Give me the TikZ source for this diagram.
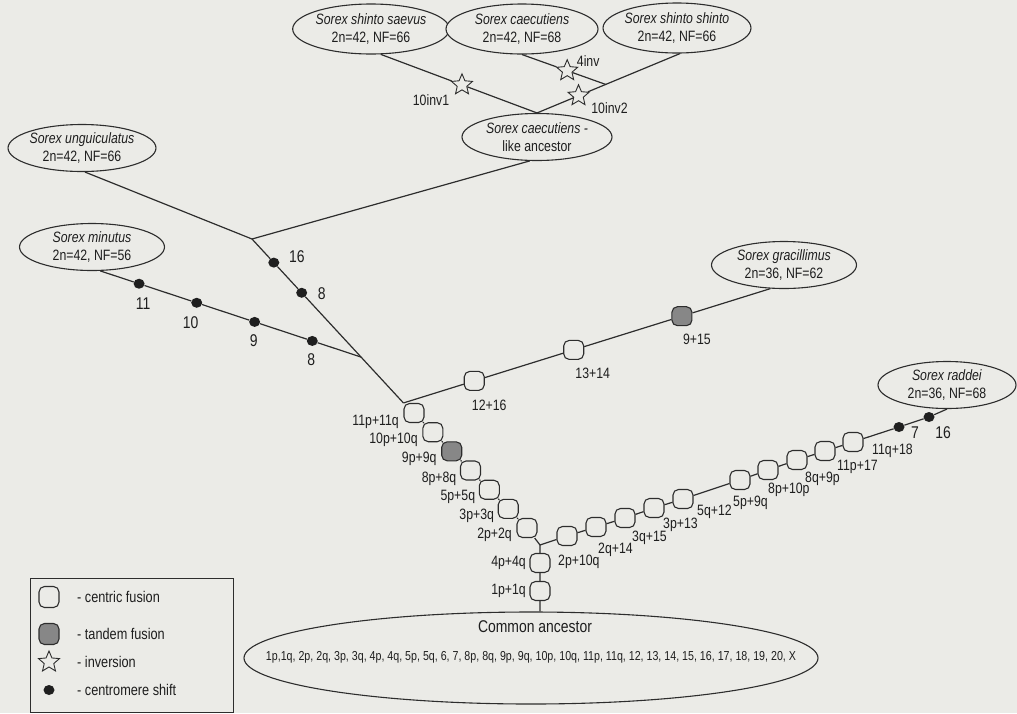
\documentclass[tikz,border=0pt]{standalone}
\usepackage{fontspec}
\setmainfont{Liberation Sans}[FakeStretch=0.82]
\usetikzlibrary{shapes.geometric,calc}
\definecolor{bg}{RGB}{235,235,231}
\definecolor{ink}{RGB}{45,45,45}
\definecolor{txt}{RGB}{30,30,30}
\definecolor{tand}{RGB}{135,135,135}
\begin{document}
\begin{tikzpicture}[x=1pt,y=-1pt,
  conn/.style={draw=ink, line width=1.2pt},
  sp/.style={ellipse, draw=ink, line width=1.1pt, fill=bg, inner sep=0pt, minimum width=145pt, minimum height=47pt, align=center, font=\fontsize{15}{18}\selectfont, text=txt},
  cf/.style={rectangle, rounded corners=5.5pt, draw=ink, line width=1.1pt, fill=bg, minimum width=20pt, minimum height=19pt, inner sep=0pt},
  tf/.style={cf, fill=tand},
  cs/.style={ellipse, fill=black!88, minimum width=11pt, minimum height=10pt, inner sep=0pt},
  inv/.style={star, star points=5, star point ratio=2.2, draw=ink, line width=0.9pt, fill=bg, minimum size=22pt, inner sep=0pt},
  lbl/.style={font=\fontsize{15}{17}\selectfont, text=txt, inner sep=0pt},
  num/.style={font=\fontsize{17}{19}\selectfont, text=txt, inner sep=0pt},
  leg/.style={font=\fontsize{15.5}{17}\selectfont, text=txt, inner sep=0pt, anchor=west},
]
\fill[bg] (0,0) rectangle (1017,713);
\useasboundingbox (0,0) rectangle (1017,713);

% species
\node[sp, minimum height=50pt] (saevus) at (371,29) {\textit{Sorex shinto saevus}\\2n=42, NF=66};
\node[sp, minimum height=50pt, minimum width=152pt] (caec) at (522,29) {\textit{Sorex caecutiens}\\2n=42, NF=68};
\node[sp, minimum height=50pt] (shinto) at (677,28) {\textit{Sorex shinto shinto}\\2n=42, NF=66};
\node[sp, minimum width=150pt] (anc) at (537,137) {\textit{Sorex caecutiens -}\\like ancestor};
\node[sp] (ungu) at (82,148) {\textit{Sorex unguiculatus}\\2n=42, NF=66};
\node[sp] (minu) at (92,247) {\textit{Sorex minutus}\\2n=42, NF=56};
\node[sp] (grac) at (784,265) {\textit{Sorex gracillimus}\\2n=36, NF=62};
\node[sp, minimum width=138pt] (radd) at (947,385) {\textit{Sorex raddei}\\2n=36, NF=68};

% common ancestor
\node[ellipse, draw=ink, line width=1.1pt, minimum width=574pt, minimum height=92pt, inner sep=0pt] (common) at (531,658) {};
\node[font=\fontsize{17}{19}\selectfont, text=txt] (ctitle) at (535,627) {Common ancestor};
\node[font=\fontsize{13}{16}\selectfont, text=txt] (clist) at (531,657) {1p,1q, 2p, 2q, 3p, 3q, 4p, 4q, 5p, 5q, 6, 7, 8p, 8q, 9p, 9q, 10p, 10q, 11p, 11q, 12, 13, 14, 15, 16, 17, 18, 19, 20, X};

% top inversions
\coordinate (ja) at (anc.north);
\coordinate (jb) at ($(ja)!0.48!(shinto.-83)$);
\node[inv] (s1) at ($(saevus.-69)!0.52!(ja)$) {};
\node[inv] (s3) at ($(ja)!0.29!(shinto.-83)$) {};
\node[inv] (s2) at ($(caec.south)!0.54!(jb)$) {};
\draw[conn] (saevus.-69) -- (s1) -- (ja) -- (s3) -- (jb) -- (shinto.-83);
\draw[conn] (caec.south) -- (s2) -- (jb);
\node[lbl] (t1) at ([shift={(-31,15)}]s1) {10inv1};
\node[lbl] (t2) at ([shift={(21,-10)}]s2) {4inv};
\node[lbl] (t3) at ([shift={(31,12)}]s3) {10inv2};

% central chain
\node[cf] (c1) at (414,413) {};
\node[cf] (c2) at (432.8,432.2) {};
\node[tf] (c3) at (451.7,451.3) {};
\node[cf] (c4) at (470.5,470.5) {};
\node[cf] (c5) at (489.3,489.7) {};
\node[cf] (c6) at (508.2,508.8) {};
\node[cf] (c7) at (527,528) {};
\coordinate (j4) at (540,545);
\node[cf] (c8) at (540,563) {};
\node[cf] (c9) at (540,591) {};
\draw[conn] (c1) -- (c2) -- (c3) -- (c4) -- (c5) -- (c6) -- (c7) -- (j4) -- (c8) -- (c9) -- (c9 |- common.north);
\node[lbl, anchor=east] at ([shift={(-15,9)}]c1) {11p+11q};
\node[lbl, anchor=east] at ([shift={(-15,8)}]c2) {10p+10q};
\node[lbl, anchor=east] at ([shift={(-15,8)}]c3) {9p+9q};
\node[lbl, anchor=east] at ([shift={(-14,8)}]c4) {8p+8q};
\node[lbl, anchor=east] at ([shift={(-14,7)}]c5) {5p+5q};
\node[lbl, anchor=east] at ([shift={(-14,7)}]c6) {3p+3q};
\node[lbl, anchor=east] at ([shift={(-15,7)}]c7) {2p+2q};
\node[lbl, anchor=east] at ([shift={(-14,0)}]c8) {4p+4q};
\node[lbl, anchor=east] at ([shift={(-14,0)}]c9) {1p+1q};

% left branches
\coordinate (j1) at (252,239);
\coordinate (j3) at (c1.north west);
\coordinate (j2) at ($(j1)!0.72!(j3)$);
\draw[conn] (ungu.-83) -- (j1);
\draw[conn] (anc.-107) -- (j1);
\node[cs] (u16) at ($(j1)!0.144!(j3)$) {};
\node[cs] (u8) at ($(j1)!0.328!(j3)$) {};
\draw[conn] (j1) -- (u16) -- (u8) -- (j2) -- (j3);
\node[num] at ([shift={(23,-6)}]u16) {16};
\node[num] at ([shift={(20,1)}]u8) {8};
\node[cs] (m11) at ($(minu.-71)!0.149!(j2)$) {};
\node[cs] (m10) at ($(minu.-71)!0.370!(j2)$) {};
\node[cs] (m9) at ($(minu.-71)!0.592!(j2)$) {};
\node[cs] (m8) at ($(minu.-71)!0.813!(j2)$) {};
\draw[conn] (minu.-71) -- (m11) -- (m10) -- (m9) -- (m8) -- (j2);
\node[num] at ([shift={(4,20)}]m11) {11};
\node[num] at ([shift={(-6,20)}]m10) {10};
\node[num] at ([shift={(-1,19)}]m9) {9};
\node[num] at ([shift={(-1,19)}]m8) {8};

% gracillimus branch
\node[cf] (g1) at ($(j3)!0.193!(grac.-120)$) {};
\node[cf] (g2) at ($(j3)!0.464!(grac.-120)$) {};
\node[tf] (g3) at ($(j3)!0.759!(grac.-120)$) {};
\draw[conn] (j3) -- (g1) -- (g2) -- (g3) -- (grac.-120);
\node[lbl] at ([shift={(15,24)}]g1) {12+16};
\node[lbl] at ([shift={(19,23)}]g2) {13+14};
\node[lbl] at ([shift={(15,23)}]g3) {9+15};

% raddei branch
\node[cf] (r1) at (567,536) {};
\node[cf] (r2) at (596,527) {};
\node[cf] (r3) at (625,518) {};
\node[cf] (r4) at (654,508) {};
\node[cf] (r5) at (683,499) {};
\node[cf] (r6) at (740,480) {};
\node[cf] (r7) at (768,470) {};
\node[cf] (r8) at (797,460) {};
\node[cf] (r9) at (825,451) {};
\node[cf] (r10) at (853,442) {};
\node[cs] (d7) at (899,427) {};
\node[cs] (d16) at (929,417) {};
\draw[conn] (j4) -- (r1) -- (r2) -- (r3) -- (r4) -- (r5) -- (r6) -- (r7) -- (r8) -- (r9) -- (r10) -- (d7) -- (d16) -- (radd.south);
\node[lbl, anchor=west] at ([shift={(-9,26)}]r1) {2p+10q};
\node[lbl, anchor=west] at ([shift={(2,23)}]r2) {2q+14};
\node[lbl, anchor=west] at ([shift={(7,20)}]r3) {3q+15};
\node[lbl, anchor=west] at ([shift={(9,17)}]r4) {3p+13};
\node[lbl, anchor=west] at ([shift={(14,13)}]r5) {5q+12};
\node[lbl, anchor=west] at ([shift={(-7,23)}]r6) {5p+9q};
\node[lbl, anchor=west] at ([shift={(0,20)}]r7) {8p+10p};
\node[lbl, anchor=west] at ([shift={(8,19)}]r8) {8q+9p};
\node[lbl, anchor=west] at ([shift={(12,16)}]r9) {11p+17};
\node[lbl, anchor=west] at ([shift={(19,9)}]r10) {11q+18};
\node[num] at ([shift={(16,6)}]d7) {7};
\node[num] at ([shift={(14,16)}]d16) {16};

% legend
\node[draw=ink, line width=0.9pt, minimum width=203pt, minimum height=134pt, inner sep=0pt, anchor=north west] (legend) at (30,578) {};
\node[cf, minimum width=20pt, minimum height=21pt] (k1) at (49,597) {};
\node[tf, minimum width=20pt, minimum height=21pt] (k2) at (49,634) {};
\node[inv] (k3) at (49,662) {};
\node[cs] (k4) at (49,690) {};
\node[leg] at (77,597) {- centric fusion};
\node[leg] at (77,634) {- tandem fusion};
\node[leg] at (77,662) {- inversion};
\node[leg] at (77,690) {- centromere shift};
\end{tikzpicture}
\end{document}
